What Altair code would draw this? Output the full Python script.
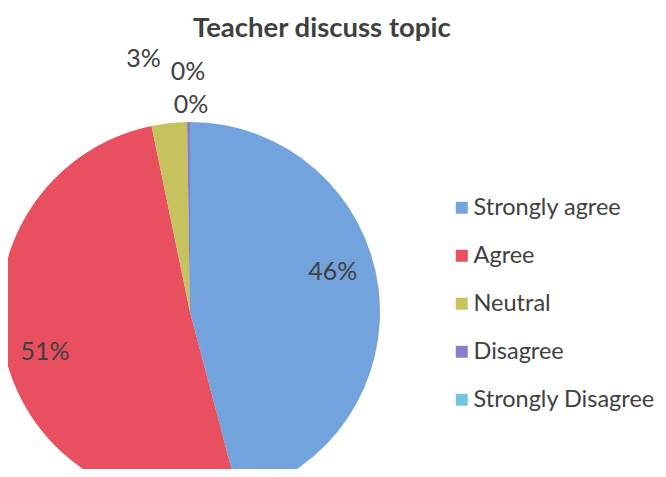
import altair as alt
import pandas as pd

categories = ["Strongly agree", "Agree", "Neutral", "Disagree", "Strongly Disagree"]
values = [46, 51, 3, 0.25, 0.0]
labels = ["46%", "51%", "3%", "0%", "0%"]
colors = ["#72a3dd", "#e8505f", "#c6c35e", "#8a7cc8", "#74c4df"]

df = pd.DataFrame({"cat": categories, "val": values, "lab": labels,
                   "idx": list(range(len(categories)))})

CX, CY, R = 182, 304, 190
FONT = "Lato"

base = alt.Chart(df).encode(
    theta=alt.Theta("val:Q", stack=True),
    order=alt.Order("idx:Q"),
)

pie = base.mark_arc(stroke=None).encode(
    x=alt.value(CX), y=alt.value(CY), radius=alt.value(R),
    color=alt.Color("cat:N", sort=categories,
                    scale=alt.Scale(domain=categories, range=colors),
                    legend=alt.Legend(title=None, orient="none", legendX=442, legendY=188,
                                      symbolType="square", symbolSize=144, symbolStrokeWidth=0,
                                      labelFont=FONT, labelFontSize=23.5, labelColor="#404040",
                                      labelOffset=0, rowPadding=23, padding=0, labelLimit=400)),
)

# label placement (radius, dx, dy) per slice, to mimic the reference layout
label_style = {
    "Strongly agree": (150, -6, -21),
    "Agree": (150, 1, 6),
    "Neutral": (261, -18, 6),
    "Disagree": (240, 0, 0),
    "Strongly Disagree": (204, 1, -3),
}

layers = [pie]
for cat in categories:
    r, dx, dy = label_style[cat]
    layers.append(
        base.mark_text(font=FONT, fontSize=25, color="#404040", dx=dx, dy=dy).encode(
            x=alt.value(CX), y=alt.value(CY), radius=alt.value(r),
            text=alt.condition(alt.datum.cat == cat, "lab:N", alt.value("")),
        )
    )

chart = alt.layer(*layers).properties(
    width=650, height=461,
    autosize=alt.AutoSizeParams(type="none"),
    padding=0,
    title=alt.TitleParams("Teacher discuss topic", font=FONT, fontSize=27.5, fontWeight="bold",
                          color="#404040", anchor="start", dx=275, dy=38),
).configure_view(stroke=None)

chart.save("out.html", embed_options={"renderer": "svg", "actions": False})
